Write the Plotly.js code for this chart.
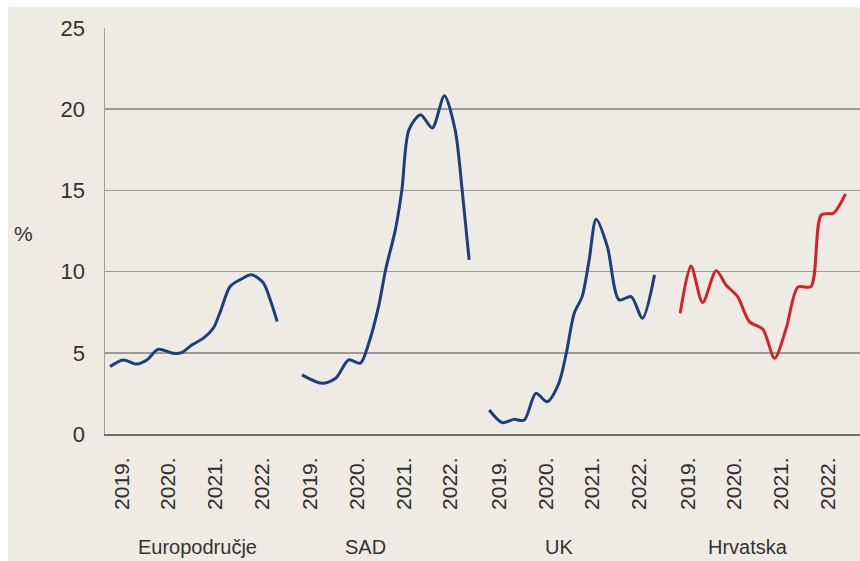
<!DOCTYPE html>
<html>
<head>
<meta charset="utf-8">
<script src="https://cdn.plot.ly/plotly-3.0.1.min.js"></script>
<style>
  html, body { margin: 0; padding: 0; background: #ffffff; }
  #wrap { position: relative; width: 860px; height: 561px; background: #ffffff; overflow: hidden; }
  #chart { position: absolute; left: 8px; top: 7px; width: 852px; height: 554px; }
</style>
</head>
<body>
<div id="wrap"><div id="chart"></div></div>
<script>
// ---- data (decimal year, percent) ----
const groups = ['Europodručje', 'SAD', 'UK', 'Hrvatska'];
const years = [2019, 2020, 2021, 2022];

const euroT = [2018.75, 2019.03, 2019.32, 2019.54, 2019.78, 2020.10, 2020.28, 2020.50, 2020.75, 2020.96, 2021.10, 2021.32, 2021.53, 2021.78, 2022.03, 2022.18, 2022.33];
const euroV = [4.15, 4.56, 4.31, 4.56, 5.22, 4.97, 5.01, 5.48, 5.90, 6.51, 7.44, 9.08, 9.49, 9.80, 9.32, 8.26, 6.92];

const sadT = [2018.82, 2019.25, 2019.54, 2019.82, 2020.07, 2020.25, 2020.46, 2020.61, 2020.82, 2020.96, 2021.11, 2021.36, 2021.61, 2021.87, 2022.10, 2022.25, 2022.40];
const sadV = [3.64, 3.12, 3.43, 4.56, 4.36, 5.59, 7.84, 10.10, 12.57, 15.03, 18.73, 19.66, 18.84, 20.83, 18.73, 15.03, 10.72];

const ukT = [2018.79, 2019.07, 2019.32, 2019.54, 2019.79, 2020.03, 2020.28, 2020.44, 2020.61, 2020.78, 2020.93, 2021.08, 2021.32, 2021.57, 2021.83, 2022.07, 2022.33];
const ukV = [1.48, 0.70, 0.90, 0.86, 2.51, 1.99, 3.12, 4.97, 7.44, 8.46, 10.72, 13.23, 11.54, 8.26, 8.46, 7.13, 9.80];

const hrT = [2018.84, 2019.07, 2019.32, 2019.61, 2019.82, 2020.07, 2020.32, 2020.61, 2020.86, 2021.11, 2021.36, 2021.64, 2021.86, 2022.12, 2022.38];
const hrV = [7.44, 10.35, 8.09, 10.06, 9.18, 8.46, 6.92, 6.45, 4.66, 6.51, 9.04, 9.08, 13.49, 13.60, 14.79];

const yTicks = [0, 5, 10, 15, 20, 25];

// ---- layout helpers ----
const G = 4.04;             // width of one country block, in years
const base = 2019;
const toX = (t, g) => t - base + g * G;

const navy = '#1f3d7a';
const red = '#d2232a';
const seriesT = [euroT, sadT, ukT, hrT];
const seriesV = [euroV, sadV, ukV, hrV];
const colors = [navy, navy, navy, red];

const traces = seriesT.map((T, g) => ({
  type: 'scatter',
  mode: 'lines',
  x: T.map(t => toX(t, g)),
  y: seriesV[g],
  line: { color: colors[g], width: 3, shape: 'spline', smoothing: 0.8 },
  name: groups[g],
  hoverinfo: 'skip'
}));

const tickvals = [];
const ticktext = [];
groups.forEach((_, g) => years.forEach(yr => { tickvals.push(toX(yr, g)); ticktext.push(yr + '.'); }));

const labelOffsets = [1.63, 1.17, 1.28, 1.30];
const annotations = groups.map((name, g) => ({
  x: g * G + labelOffsets[g], xref: 'x',
  y: -0.278, yref: 'paper',
  text: name, showarrow: false,
  xanchor: 'center', yanchor: 'middle',
  font: { family: 'Liberation Sans, Arial, sans-serif', size: 20, color: '#333333' }
}));
annotations.push({
  x: -0.1086, xref: 'paper', y: 0.495, yref: 'paper',
  text: '%', showarrow: false, xanchor: 'center', yanchor: 'middle',
  font: { family: 'Liberation Sans, Arial, sans-serif', size: 21, color: '#333333' }
});

const layout = {
  width: 852, height: 554,
  margin: { l: 97, r: 0, t: 21, b: 127, pad: 0 },
  paper_bgcolor: '#eeebe4',
  plot_bgcolor: '#eeebe4',
  showlegend: false,
  xaxis: {
    range: [-0.358, 15.81],
    tickmode: 'array', tickvals: tickvals, ticktext: ticktext,
    tickangle: -90,
    tickfont: { family: 'Liberation Sans, Arial, sans-serif', size: 21, color: '#2e2e2e' },
    ticks: '', ticklabelstandoff: 13,
    showgrid: false, zeroline: false,
    showline: true, linecolor: '#6e6e6e', linewidth: 2
  },
  yaxis: {
    range: [0, 25],
    tickmode: 'array', tickvals: yTicks, ticktext: yTicks.map(String),
    tickfont: { family: 'Liberation Sans, Arial, sans-serif', size: 22, color: '#333333' },
    ticks: '', ticklabelstandoff: 14,
    showgrid: true, gridcolor: '#9d9a96', gridwidth: 1.6,
    zeroline: false,
    showline: true, linecolor: '#a3a09c', linewidth: 1.5
  },
  annotations: annotations
};

Plotly.newPlot('chart', traces, layout, { staticPlot: true, displayModeBar: false });
</script>
</body>
</html>
